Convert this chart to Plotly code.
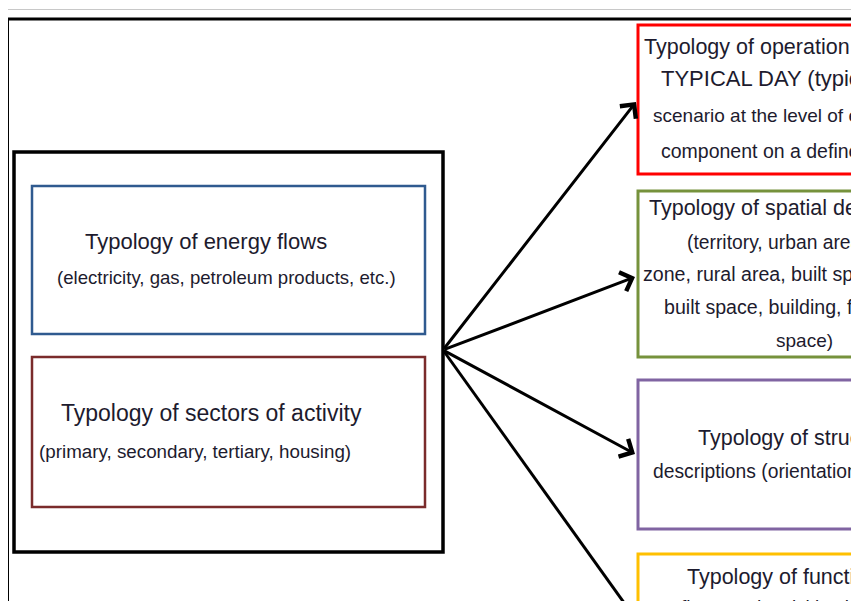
import plotly.graph_objects as go

# ---- content ----
left_titles = ["Typology of energy flows", "Typology of sectors of activity"]
left_subtitles = ["(electricity, gas, petroleum products, etc.)",
                  "(primary, secondary, tertiary, housing)"]

right_box_lines = [
    ["Typology of operation of a", "TYPICAL DAY (typical", "scenario at the level of each",
     "component on a defined period)"],
    ["Typology of spatial descriptions", "(territory, urban area, urban",
     "zone, rural area, built space, non-", "built space, building, floor,", "space)"],
    ["Typology of structural", "descriptions (orientation, form)"],
    ["Typology of functional", "flows and activities in space"],
]

# ---- layout (pixel coordinates of the 859x601 picture) ----
W, H = 859, 601
OFF = 8  # page body margin compensation
FONT = "Liberation Sans, Arial, sans-serif"
TXT = "#1d1b2e"

left_inner_boxes = [(32, 186, 425, 334, "#2f5a8f"), (32, 357, 425, 507, "#7a2b2b")]
left_title_pos = [(206, 241, 22), (211, 413, 23)]
left_sub_pos = [(226, 277, 18.6), (195, 451, 18.8)]

right_boxes = [(638, 25, 920, 174, "#ff0000"), (638, 191, 920, 357, "#76923c"),
               (638, 380, 920, 529, "#8064a2"), (638, 554, 920, 700, "#ffc000")]
right_line_pos = [
    [(642, 47, 21.5), (659, 78, 22), (651, 115, 19), (659, 151, 19.5)],
    [(647, 208, 21.5), (685, 242, 19.3), (641, 274, 19.6), (662, 307, 19.6), (774, 340, 19)],
    [(696, 438, 21.5), (651, 471, 19.3)],
    [(685, 577, 21.5), (679, 606, 19)],
]

origin = (443, 350)
arrow_tips = [(636, 102), (635, 277), (635, 454)]
last_line_end = (645, 632)

shapes = []
# thin grey line at top
shapes.append(dict(type="line", x0=2, y0=9.5, x1=W + 20, y1=9.5,
                   line=dict(color="#c8c8c8", width=1)))
# outer frame
shapes.append(dict(type="rect", x0=7.5, y0=19, x1=W + 40, y1=H + 40,
                   line=dict(color="black", width=3)))
# left big box
shapes.append(dict(type="rect", x0=14, y0=152, x1=443, y1=552,
                   line=dict(color="black", width=3.5)))
for x0, y0, x1, y1, c in left_inner_boxes:
    shapes.append(dict(type="rect", x0=x0, y0=y0, x1=x1, y1=y1,
                       line=dict(color=c, width=2.5)))
for x0, y0, x1, y1, c in right_boxes:
    shapes.append(dict(type="rect", x0=x0, y0=y0, x1=x1, y1=y1,
                       line=dict(color=c, width=3)))
shapes.append(dict(type="line", x0=origin[0], y0=origin[1], x1=last_line_end[0],
                   y1=last_line_end[1], line=dict(color="black", width=3)))

annotations = []
for (x, y, s), t in zip(left_title_pos, left_titles):
    annotations.append(dict(x=x, y=y, text=t, showarrow=False, xanchor="center",
                            yanchor="middle", font=dict(family=FONT, size=s, color=TXT)))
for (x, y, s), t in zip(left_sub_pos, left_subtitles):
    annotations.append(dict(x=x, y=y, text=t, showarrow=False, xanchor="center",
                            yanchor="middle", font=dict(family=FONT, size=s, color=TXT)))
for lines, poss in zip(right_box_lines, right_line_pos):
    for t, (x, y, s) in zip(lines, poss):
        annotations.append(dict(x=x, y=y, text=t, showarrow=False, xanchor="left",
                                yanchor="middle", font=dict(family=FONT, size=s, color=TXT)))
for tx, ty in arrow_tips:
    annotations.append(dict(x=tx, y=ty, ax=origin[0], ay=origin[1], axref="x", ayref="y",
                            xref="x", yref="y", text="", showarrow=True, arrowhead=4,
                            arrowsize=1.3, arrowwidth=3, arrowcolor="black"))

fig = go.Figure()
fig.update_layout(
    width=W, height=H, margin=dict(l=0, r=0, t=0, b=0),
    paper_bgcolor="white", plot_bgcolor="white",
    xaxis=dict(range=[OFF, W + OFF], visible=False, fixedrange=True),
    yaxis=dict(range=[H + OFF, OFF], visible=False, fixedrange=True),
    shapes=shapes, annotations=annotations, showlegend=False,
)
fig.write_html("out.html")
